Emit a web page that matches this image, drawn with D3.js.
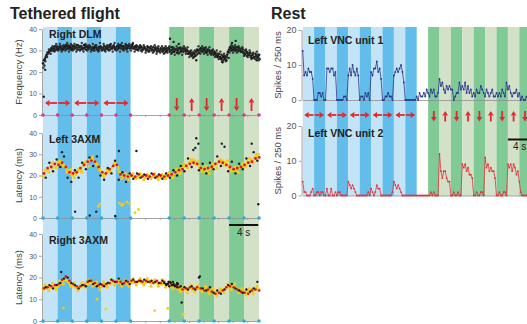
<!DOCTYPE html>
<html>
<head>
<meta charset="utf-8">
<script src="https://cdn.jsdelivr.net/npm/d3@7"></script>
<style>
  body { margin: 0; background: #fff; }
  svg { display: block; font-family: "Liberation Sans", Arial, Helvetica, sans-serif; }
  .axis path, .axis line { stroke: #8f8f8f; stroke-width: 0.8; }
  .axis text { fill: #555; }
</style>
</head>
<body>
<svg id="fig" width="527" height="324"></svg>
<script>
// stimulus bands, seconds
const flightBlueEdges = [0, 2, 4, 6, 8, 10, 12];
const flightGreenEdges = [17.3, 19.35, 21.4, 23.45, 25.5, 27.55, 29.6];
const restBlueEdges = [0, 2, 4, 6, 8, 10, 12, 14, 16, 18, 20];
const restGreenEdges = [22, 24, 26, 28, 30, 32, 34, 36, 38, 40];

const yTicks40 = [0, 10, 20, 30, 40];
const yTicks20 = [0, 10, 20];

// Right DLM frequency (Hz), one value every 0.25 s, four interleaved samples
const dlmA = [24,26,28,29,30,30.5,31,30.5,31,31.5,31,30.5,31.5,32,31,31.5,31,32,31.5,30.5,
  31.5,32,31,31.5,32,31,31.5,30.5,31,31.5,30.5,31,31.5,31,30.5,31,31.5,32,31,31.5,
  31,32,31.5,31,32,31.5,31,32,31.5,32,31,31.5,30.5,31,31.5,30.5,31,30.5,30,31,
  30.5,30,30.5,31,30,30.5,30,30.5,30,31,30,30.5,29.5,30.5,30,31,30,29.5,30.5,30,
  29,28.5,28,28.5,29.5,30,30.5,30,30.5,30,29.5,30,29.5,29,28.5,28,27.5,27,26.5,27,
  26.5,28,30.5,31,30.5,31,30.5,30,30.5,29.5,29,28.5,29,28,27.5,28,27,27.5,27];
const dlmB = [25.5,27,29,29.5,31,30,32,31.5,30.5,32,30.5,31.5,32.5,31,32,30.5,32,31,32.5,31.5,
  30.5,31,32.5,30.5,31.5,32,30.5,31.5,32,30.5,31.5,32,30.5,32,31.5,30.5,32.5,31,32,30.5,
  32,31,32.5,32,31,32.5,32,31,32.5,31,32,30.5,31.5,32,30.5,31.5,30,31.5,31,30,
  31.5,31,29.5,30,31,29.5,31,29.5,31,29.5,31.5,29.5,30.5,29,31,29.5,31,30.5,29.5,28.5,
  29.5,27.5,29,27.5,30.5,29,31,29.5,31,29,30.5,29,30,28,29,27,28.5,26,27.5,26,
  25.5,29.5,31.5,30,31.5,30,31.5,31,29.5,30.5,28,29.5,28,29,26.5,27,28.5,26.5,28];
const dlmC = [23,27.5,28.5,30,30,31.5,30,32,31.5,30.5,32,31,30.5,32.5,30.5,32.5,30.5,31.5,30.5,32,
  32,30.5,31,32.5,30.5,32,31,30,32.5,31,30,31.5,31,30,32,31.5,30.5,31.5,32.5,31,
  30.5,32.5,31,30.5,31.5,30.5,32.5,31.5,31,31.5,30.5,32,31,30,31,31.5,30.5,29.5,31.5,30.5,
  29.5,31.5,30.5,29.5,30.5,31,29,31,30.5,30,29,31,30.5,31,29,30.5,29.5,31,30.5,29.5,
  28,29,27,29.5,28.5,30.5,29.5,31,29.5,30.5,30,28.5,29,29.5,27.5,28.5,26.5,28,25.5,27.5,
  27,26.5,30,32,30,31.5,29.5,30.5,31,29,30,27.5,28.5,27,28.5,26.5,27.5,28,26];
const dlmD = [22,25,27,30.5,28.5,32,29.5,33,30,33,29.5,32.5,30,33.5,29.5,33,30,33,29.5,32.5,
  30,33.5,29.5,33,30,32.5,29.5,33,30,32.5,29.5,33.5,30,33,29.5,32.5,30,33,29.5,33.5,
  30,33,29.5,33.5,30,33,29.5,33,30,33.5,29.5,32.5,30,32.5,29.5,32.5,29,32,29.5,32,
  29,32.5,28.5,32,29,32,28.5,32,29,32,28.5,31.5,28,32,28.5,31.5,28,32,28.5,31.5,
  27,30,26.5,30,28,32,28.5,32,28.5,31.5,28,31.5,28,30.5,27,30,26,29.5,25,28.5,
  25,29,29,32.5,29,32.5,29,32,29.5,31.5,27.5,30.5,27,30,26,29,26,29.5,25.5];
const dlmOutliers = [[0.1, 8.5], [0.3, 21], [17.4, 35.5], [17.9, 34], [18.6, 33], [25.9, 33.5],
  [26.4, 34.5], [12.3, 33], [21.0, 25.5], [24.6, 24.5], [29.3, 25.5]];

// Left 3AXM latency (ms)
const l3Yellow = [19.5,21,22.5,23,24.5,23.5,25,24,26,25,26.5,25.5,24.5,23,22,21,20,21.5,20.5,22,
  23,22.5,24.5,25,26,27,27.5,28,27,26,25,23.5,22,21,20.5,21.5,22,23,24,25,
  25.5,24,21.5,20,19.5,20,19,20,
  19.5,20,19,19.5,20,19,19.5,20,19,19.5,20,19,19.5,20,19,19.5,20,19,19.5,20,
  19.5,20,20.5,20,21,21.5,22,22.5,23.5,24,25,24.5,26,26.5,27.5,27,26,25,24,23,
  23.5,22,22.5,23,24,23.5,25,25.5,26,26.5,27,26.5,26,25,24,23.5,22.5,23,22,23.5,
  24,24.5,25.5,25,26.5,26,27.5,27,28.5,29,30];
const l3Yellow2 = [22.5,21.5,26,23.5,27,24.5,21.5,23,19,23,21.5,26.5,24.5,29,25,22.5,19.5,23,21.5,26,
  23,18.5,21,18, 21,18.5,21,18,20.5,18.5,21,18,20.5,18.5,
  21.5,19,23,21,25.5,23.5,27.5,25.5,27,22,24.5,21,25.5,23.5,27.5,25,27,22,24,21.5,25.5,24,28,26,30];
const l3Red = [21,23.5,24,25.5,25,26,24,21.5,21,21.5,23.5,25,26.5,27,26.5,24,21.5,21,23,24.5,
  25,20.5,20,19.5,20,19.5,20.5,19.5,20,19.5,20.5,19.5,20,19.5,20,20.5,21.5,22.5,23,24.5,
  25.5,26,25.5,23.5,23,23.5,24,25.5,26.5,26,25,24,23,23.5,24,25,26,26.5,28,28.5];
const l3Black = [19,26,22,27.5,24,29,19,17,22.5,19,26,23,28.5,24.5,29,20,18,23.5,21,27,
  18,21.5,17,21,18.5,21,19,20.5,18.5,21,19,20.5,18.5,21,19,22.5,20,24.5,22,28,
  24,33,22.5,25.5,21,26,23,29,24.5,33.5,22,26.5,21,25.5,23,28,24.5,31,27];
const l3OutYellow = [[10.5, 7], [11, 6.5], [11.5, 7.5], [10.8, 6], [11.9, 6.8], [7.6, 5.5], [7.8, 6.5],
  [12.6, 2.5], [13.1, 4]];
const l3OutBlack = [[4.4, 3], [6.4, 1.2], [7.3, 3], [9.9, 1], [12.8, 31.5], [10.4, 31.5], [2.6, 31],
  [21.0, 37.5], [21.3, 35], [24.5, 35], [28.6, 35], [29.5, 6.5], [20.6, 32]];

// Right 3AXM latency (ms)
const r3Yellow = [14.5,15.5,15,16,15.5,16,15.5,16.5,16,17,17.5,18.5,19,18.5,18,17,16.5,16,15.5,15,
  15.5,16,16.5,17,17.5,17,17.5,18,17,16.5,16,16.5,16,17,16.5,17,17.5,17,18,17.5,
  18,17.5,18,17,17.5,18,17,17.5,
  18,17.5,18,17.5,18,18.5,17.5,18,17.5,18,18.5,17.5,18,17.5,18,17,17.5,17,17.5,17,
  16.5,17,16,16.5,16,15.5,15,14.5,14,14.5,15,14.5,15,15.5,14.5,15,15.5,15,14.5,15,
  14.5,14,14.5,13.5,14,13,13.5,12.5,13,13.5,14,14.5,15,15.5,16,16.5,16,15.5,15,14.5,
  14,13.5,13,13.5,13,14,14.5,14,14.5,15,14.5];
const r3Yellow2 = [16.5,14,17.5,14.5,18.5,17,20.5,16,17.5,14,17.5,15.5,19,16,18,14.5,18,15.5,19,16.5,
  19,16,19,16, 19.5,16.5,19.5,16.5,19.5,16,19,16,19,15.5,
  18,15,17.5,13.5,16,13,16.5,13.5,16.5,13.5,16,12.5,15,11.5,15,13,17,14.5,17,13,15,12,15,12.5,16];
const r3Red = [15,15.5,16,16.5,17,19,20.5,18.5,17,16,16,16.5,18,18.5,17.5,16.5,16.5,17,17.5,18.5,
  18,18,17.5,18,18.5,18,18.5,18,18.5,18,17.5,18.5,17.5,18,17,16.5,16.5,15.5,14.5,15,
  15.5,15,15.5,15,14,14.5,13.5,12.5,13,14,15.5,16,15.5,14.5,13.5,13,12.5,14,14.5,14];
const r3Black = [15.5,16.5,15,16.5,17.5,19.5,20,17.5,16.5,15,16.5,16,18.5,17,16,17,16,17.5,19,18,
  19.5,17,18.5,17,19,18,18.5,19,18,18.5,18,17.5,18.5,17,18,16.5,17.5,16,15.5,14.5,
  16,14.5,20,15,14,15.5,13,14,12.5,14.5,16.5,17,15,14,13,14.5,13.5,15,18];
const r3BlackCluster = [[16.6, 17.5], [16.9, 16.5], [17.1, 17], [17.3, 16], [17.5, 17.5], [17.7, 16.5],
  [17.9, 17], [18.1, 16], [18.3, 16.5], [18.5, 17], [17.2, 18], [17.8, 18], [18.4, 15.5]];
const r3OutYellow = [[2.8, 6], [7.4, 10], [8.6, 5.5], [15.3, 4.8], [17.1, 5.8], [19.2, 3]];
const r3OutBlack = [[19.0, 8.5], [21.5, 20.5], [2.5, 22.5]];

// Left VNC units, spikes per 250 ms bin
const unit1 = [14,7,8,7,9,8,8,6, 0,0,0,2,2,1,2,0, 0,9,9,8,9,9,7,8, 0,0,0,0,0,1,1,0,
  7,9,7,10,8,7,9,7, 0,1,1,0,2,1,2,0, 8,7,9,9,11,8,9,6, 0,0,1,1,2,1,1,0,
  7,8,9,8,9,10,8,5, 0,0,0,0,0,0,0,0, 1,0,2,1,1,2,1,3,
  2,1,3,2,3,1,1,2, 6,4,5,3,2,4,3,4, 3,3,0,1,2,2,5,3, 4,3,5,2,4,2,3,1,
  2,1,3,2,2,4,3,2, 1,3,2,1,2,3,1,1, 2,1,2,1,3,2,1,5, 3,4,2,1,2,2,3,1,
  2,0,1,0,0,1,0];
const unit2 = [4,1,1,0,0,0,1,2, 0,0,1,1,0,1,1,0, 0,2,0,0,2,0,0,1, 0,1,1,0,0,0,0,0,
  4,3,2,3,2,1,0,0, 0,0,0,0,0,0,1,0, 2,1,0,1,3,2,2,0, 0,0,0,0,0,0,0,1,
  4,3,2,3,2,1,0,0, 0,0,0,0,0,0,0,0, 0,0,0,0,0,0,0,0,
  0,0,1,0,1,0,0,0, 12,7,5,7,7,5,4,4, 0,0,1,0,0,1,0,0, 9,8,9,7,8,6,6,5,
  0,0,1,0,0,1,1,0, 11,8,9,7,8,7,7,5, 0,0,1,0,0,1,1,0, 9,8,9,7,9,8,6,7,
  4,1,0,0,0,0,0];
const binSec = 0.25;

const svg = d3.select("#fig");
const C = {
  blueLight: "#c3e4f6", blueDark: "#62bdea",
  greenDark: "#80cb95", greenLight: "#d3e1c8",
  arrow: "#e3262e", black: "#1c1c1c", red: "#d7191c", yellow: "#f6cb16",
  unit1: "#2b3990", unit2: "#e2343c", magenta: "#da3a90", cyan: "#2ea9e0"
};

const xL = d3.scaleLinear().domain([0, 29.6]).range([43, 259]);
const yDLM = d3.scaleLinear().domain([0, 40]).range([115, 29]);
const yL3 = d3.scaleLinear().domain([0, 40]).range([218, 133]);
const yR3 = d3.scaleLinear().domain([0, 40]).range([321, 234]);
const xR = d3.scaleLinear().domain([0, 40]).range([302.7, 530.7]);
const yU1 = d3.scaleLinear().domain([0, 20]).range([100, 30]);
const yU2 = d3.scaleLinear().domain([0, 20]).range([195.5, 126]);

function drawBands(x, edges, colors, y0, y1) {
  for (let i = 0; i < edges.length - 1; i++) {
    svg.append("rect")
      .attr("x", x(edges[i])).attr("y", y0)
      .attr("width", x(edges[i + 1]) - x(edges[i])).attr("height", y1 - y0)
      .attr("fill", colors[i % 2]);
  }
}

// backgrounds
drawBands(xL, flightBlueEdges, [C.blueLight, C.blueDark], 27, 321);
drawBands(xL, flightGreenEdges, [C.greenDark, C.greenLight], 27, 321);
drawBands(xR, restBlueEdges, [C.blueLight, C.blueDark], 27, 196);
drawBands(xR, restGreenEdges, [C.greenDark, C.greenLight], 27, 196);

function yAxis(x0, y, ticks, size) {
  const g = svg.append("g").attr("class", "axis")
    .attr("transform", "translate(" + x0 + ",0)")
    .call(d3.axisLeft(y).tickValues(ticks).tickSize(3).tickSizeOuter(0).tickPadding(2));
  g.selectAll("text").style("font-size", size + "px");
}

function timeAxis(x, y0, ticks, dotColor, dotEdges) {
  svg.append("g").attr("class", "axis")
    .attr("transform", "translate(0," + y0 + ")")
    .call(d3.axisBottom(x).tickValues(ticks).tickSize(2).tickSizeOuter(0).tickFormat(""));
  if (dotColor) {
    svg.append("g").selectAll("circle").data(dotEdges).enter().append("circle")
      .attr("cx", d => x(d)).attr("cy", y0).attr("r", 1.8).attr("fill", dotColor);
  }
}

const flightEdges = flightBlueEdges.concat(flightGreenEdges);
const flightTicks = [0, 2, 4, 6, 8, 10, 12, 14, 16, 18, 20, 22, 24, 26, 28];

yAxis(42, yDLM, yTicks40, 7);
yAxis(42, yL3, yTicks40, 7);
yAxis(42, yR3, yTicks40, 7);
yAxis(301.5, yU1, yTicks20, 9);
yAxis(301.5, yU2, yTicks20, 9);

timeAxis(xL, yDLM(0), flightTicks, C.magenta, flightEdges);
timeAxis(xL, yL3(0), flightTicks, C.cyan, flightEdges);
timeAxis(xL, yR3(0), flightTicks, C.cyan, flightEdges);
timeAxis(xR, yU1(0), [], null, []);
timeAxis(xR, yU2(0), [], null, []);

function scatter(y, values, step, offset, color, r) {
  svg.append("g").selectAll("circle").data(values).enter().append("circle")
    .attr("cx", (d, i) => xL(i * step + offset))
    .attr("cy", d => y(d))
    .attr("r", r).attr("fill", color);
}
function scatterPairs(y, pairs, color, r) {
  svg.append("g").selectAll("circle").data(pairs).enter().append("circle")
    .attr("cx", d => xL(d[0])).attr("cy", d => y(d[1]))
    .attr("r", r).attr("fill", color);
}

// Right DLM
scatter(yDLM, dlmD, 0.25, 0.06, "#3a3a3a", 1.2);
scatter(yDLM, dlmA, 0.25, 0, C.black, 1.3);
scatter(yDLM, dlmB, 0.25, 0.125, C.black, 1.3);
scatter(yDLM, dlmC, 0.25, 0.19, "#2a2a2a", 1.25);
scatterPairs(yDLM, dlmOutliers, C.black, 1.2);

// Left 3AXM
scatter(yL3, l3Yellow, 0.25, 0, C.yellow, 1.5);
scatter(yL3, l3Yellow2, 0.5, 0.3, C.yellow, 1.5);
scatterPairs(yL3, l3OutYellow, C.yellow, 1.4);
scatter(yL3, l3Red, 0.5, 0.125, C.red, 1.4);
scatter(yL3, l3Black, 0.5, 0.375, C.black, 1.2);
scatterPairs(yL3, l3OutBlack, C.black, 1.2);

// Right 3AXM
scatter(yR3, r3Yellow, 0.25, 0, C.yellow, 1.6);
scatter(yR3, r3Yellow2, 0.5, 0.3, C.yellow, 1.5);
scatterPairs(yR3, r3OutYellow, C.yellow, 1.4);
scatter(yR3, r3Red, 0.5, 0.125, C.red, 1.3);
scatter(yR3, r3Black, 0.5, 0.375, C.black, 1.2);
scatterPairs(yR3, r3BlackCluster, C.black, 1.2);
scatterPairs(yR3, r3OutBlack, C.black, 1.2);

// VNC unit traces
function trace(y, values, color) {
  const line = d3.line().x((d, i) => xR(i * binSec)).y(d => y(d));
  svg.append("path").datum(values)
    .attr("d", line).attr("fill", "none")
    .attr("stroke", color).attr("stroke-width", 0.8);
  svg.append("g").selectAll("circle").data(values).enter().append("circle")
    .attr("cx", (d, i) => xR(i * binSec)).attr("cy", d => y(d))
    .attr("r", 0.9).attr("fill", color);
}
trace(yU1, unit1, C.unit1);
trace(yU2, unit2, C.unit2);

// stimulus arrows
function hArrow(xa, xb, y, dir) {
  // dir -1 = head on the left, +1 = head on the right
  const head = 4.5, half = 3;
  const tip = dir < 0 ? xa : xb, tail = dir < 0 ? xb : xa;
  const base = tip - dir * head;
  svg.append("line").attr("x1", tail).attr("x2", base).attr("y1", y).attr("y2", y)
    .attr("stroke", C.arrow).attr("stroke-width", 1.8);
  svg.append("path")
    .attr("d", "M" + tip + "," + y + "L" + base + "," + (y - half) + "L" + base + "," + (y + half) + "Z")
    .attr("fill", C.arrow);
}
function vArrow(x, ya, yb, dir) {
  // dir +1 = head at bottom (down), -1 = head at top (up)
  const head = 4.5, half = 2.8;
  const tip = dir > 0 ? yb : ya, tail = dir > 0 ? ya : yb;
  const base = tip - dir * head;
  svg.append("line").attr("x1", x).attr("x2", x).attr("y1", tail).attr("y2", base)
    .attr("stroke", C.arrow).attr("stroke-width", 1.8);
  svg.append("path")
    .attr("d", "M" + x + "," + tip + "L" + (x - half) + "," + base + "L" + (x + half) + "," + base + "Z")
    .attr("fill", C.arrow);
}
function arrowRow(x, blueEdges, greenEdges, yH, yV0, yV1, pad) {
  for (let i = 0; i < blueEdges.length - 1; i++) {
    const a = x(blueEdges[i]), b = x(blueEdges[i + 1]);
    if (i % 2 === 0) hArrow(a + pad, b - 0.6, yH, -1);
    else hArrow(a + 0.6, b - pad, yH, 1);
  }
  for (let i = 0; i < greenEdges.length - 1; i++) {
    const m = (x(greenEdges[i]) + x(greenEdges[i + 1])) / 2;
    vArrow(m, yV0, yV1, i % 2 === 0 ? 1 : -1);
  }
}
arrowRow(xL, flightBlueEdges, flightGreenEdges, 103, 98, 111, 2);
arrowRow(xR, restBlueEdges, restGreenEdges, 115, 111, 121.5, 1.5);

// scale bars
svg.append("line").attr("x1", xL(25.5)).attr("x2", xL(29.5)).attr("y1", 225).attr("y2", 225)
  .attr("stroke", "#111").attr("stroke-width", 2);
svg.append("text").attr("x", xL(27.5)).attr("y", 236).attr("text-anchor", "middle")
  .style("font-size", "10px").attr("fill", "#222").text("4 s");
svg.append("line").attr("x1", xR(36)).attr("x2", xR(40)).attr("y1", 139.5).attr("y2", 139.5)
  .attr("stroke", "#111").attr("stroke-width", 2);
svg.append("text").attr("x", xR(36) + 5).attr("y", 150)
  .style("font-size", "10px").attr("fill", "#222").text("4 s");

// titles and labels
function label(x, y, txt, size, weight) {
  svg.append("text").attr("x", x).attr("y", y)
    .style("font-size", size + "px").style("font-weight", weight)
    .attr("fill", "#222").text(txt);
}
label(10, 19, "Tethered flight", 16, "bold");
label(271, 19, "Rest", 16, "bold");
label(49, 37.5, "Right DLM", 10.5, "bold");
label(49, 142.5, "Left 3AXM", 10.5, "bold");
label(49, 244, "Right 3AXM", 10.5, "bold");
label(308, 44, "Left VNC unit 1", 10.5, "bold");
label(308, 137, "Left VNC unit 2", 10.5, "bold");

function yLabel(x, y, txt) {
  svg.append("text")
    .attr("transform", "translate(" + x + "," + y + ") rotate(-90)")
    .attr("text-anchor", "middle")
    .style("font-size", "9.5px").attr("fill", "#444").text(txt);
}
yLabel(22, yDLM(20), "Frequency (Hz)");
yLabel(22, yL3(20), "Latency (ms)");
yLabel(22, yR3(20), "Latency (ms)");
yLabel(281, yU1(10), "Spikes / 250 ms");
yLabel(281, yU2(10), "Spikes / 250 ms");
</script>
</body>
</html>
